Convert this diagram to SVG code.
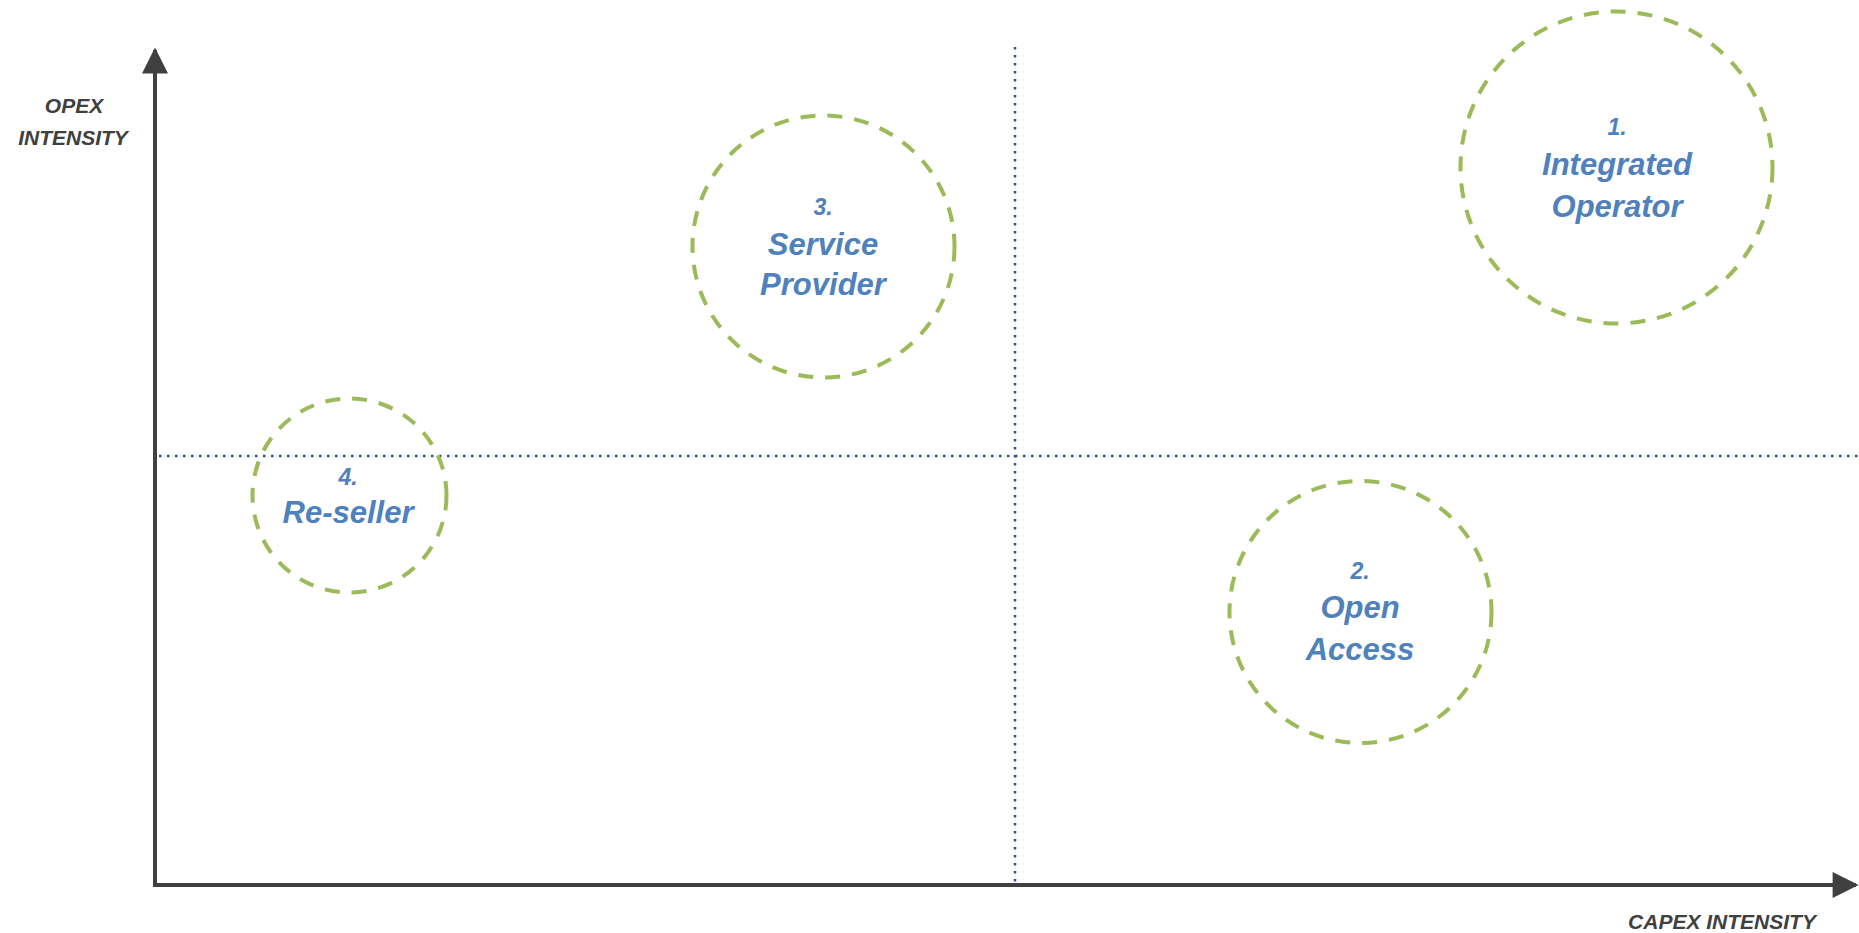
<svg xmlns="http://www.w3.org/2000/svg" width="1859" height="933" viewBox="0 0 1859 933">
<style>
.axis{stroke:#404040;stroke-width:4;fill:none}
.grid{stroke:#2F5597;stroke-width:2.5;stroke-dasharray:2.5 5.5;fill:none}
.ring{fill:none;stroke:#9BBB59;stroke-width:4;stroke-dasharray:15 12}
.lab{font-family:"Liberation Sans",Arial,sans-serif;font-weight:bold;font-style:italic;fill:#4F81BD;text-anchor:middle}
.num{font-size:23px}
.name{font-size:31px}
.ax{font-family:"Liberation Sans",Arial,sans-serif;font-weight:bold;font-style:italic;fill:#404040;font-size:21px;text-anchor:middle}
</style>
<defs>
<marker id="arr" viewBox="0 0 10 10" refX="9" refY="5" markerWidth="7" markerHeight="6.5" markerUnits="strokeWidth" orient="auto">
<path d="M0,0 L10,5 L0,10 z" fill="#404040"/>
</marker>
</defs>
<rect width="1859" height="933" fill="#fff"/>
<g id="connectors">
<line class="grid" x1="1015" y1="47" x2="1015" y2="884"/>
<line class="grid" x1="159" y1="456" x2="1859" y2="456"/>
<line class="axis" x1="155" y1="885" x2="155" y2="50" marker-end="url(#arr)"/>
<line class="axis" x1="153" y1="885" x2="1856" y2="885" marker-end="url(#arr)"/>
</g>
<g id="axis-labels">
<text class="ax" x="74" y="113">OPEX</text>
<text class="ax" x="73" y="145">INTENSITY</text>
<text class="ax" x="1722" y="929">CAPEX INTENSITY</text>
</g>
<g id="node1">
<circle class="ring" cx="1616.5" cy="167.5" r="156"/>
<text class="lab num" x="1617" y="135">1.</text>
<text class="lab name" x="1617" y="175">Integrated</text>
<text class="lab name" x="1617" y="217">Operator</text>
</g>
<g id="node2">
<circle class="ring" cx="1360.5" cy="612" r="131"/>
<text class="lab num" x="1360" y="579">2.</text>
<text class="lab name" x="1360" y="618">Open</text>
<text class="lab name" x="1360" y="660">Access</text>
</g>
<g id="node3">
<circle class="ring" cx="823.5" cy="246.5" r="131"/>
<text class="lab num" x="823" y="215">3.</text>
<text class="lab name" x="823" y="255">Service</text>
<text class="lab name" x="823" y="295">Provider</text>
</g>
<g id="node4">
<circle class="ring" cx="349.5" cy="495.5" r="97"/>
<text class="lab num" x="348" y="485">4.</text>
<text class="lab name" x="348" y="523">Re-seller</text>
</g>
</svg>
